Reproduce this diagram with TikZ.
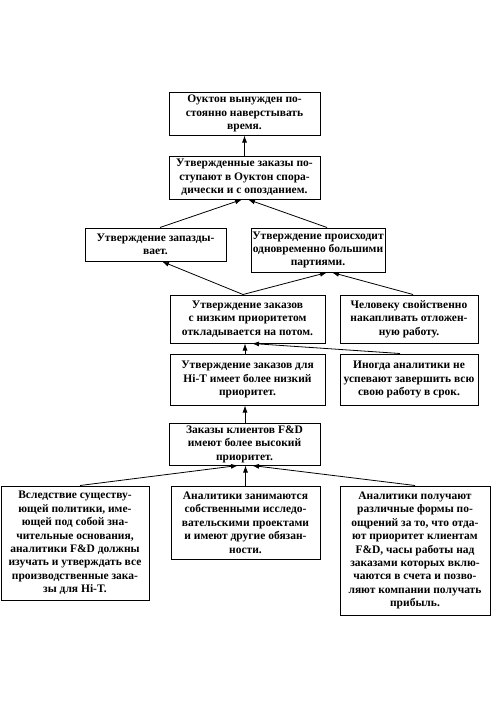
\documentclass[tikz,border=0pt]{standalone}
\usepackage{fontspec}
\setmainfont{Liberation Serif}
\usetikzlibrary{arrows.meta}
\tikzset{
  box/.style={draw, line width=1pt, align=center, inner sep=0pt,
    font=\fontsize{11.5}{13.4}\selectfont\bfseries},
  arr/.style={line width=0.8pt, -{Latex[length=7pt,width=5pt]}}
}
\begin{document}
\begin{tikzpicture}[x=1pt,y=-1pt]
\useasboundingbox (0,0) rectangle (491,709);
\node[box, minimum width=151pt, minimum height=43pt] (b1) at (244.5,113.5)
  {Оуктон вынужден по-\\стоянно наверстывать\\время.};
\node[box, minimum width=151pt, minimum height=43pt] (b2) at (244.5,177.5)
  {Утвержденные заказы по-\\ступают в Оуктон спора-\\дически и с опозданием.};
\node[box, minimum width=141pt, minimum height=33pt] (b3) at (155.5,244.5)
  {Утверждение запазды-\\вает.};
\node[box, minimum width=134pt, minimum height=44pt] (b4) at (318,250)
  {Утверждение происходит\\одновременно большими\\партиями.};
\node[box, minimum width=155pt, minimum height=48pt] (b5) at (247.5,319)
  {Утверждение заказов\\с низким приоритетом\\откладывается на потом.};
\node[box, minimum width=138pt, minimum height=48pt] (b6) at (409,319)
  {Человеку свойственно\\накапливать отложен-\\ную работу.};
\node[box, minimum width=155pt, minimum height=51pt] (b7) at (247.5,379.5)
  {Утверждение заказов для\\Hi-T имеет более низкий\\приоритет.};
\node[box, minimum width=138pt, minimum height=51pt] (b8) at (409,379.5)
  {Иногда аналитики не\\успевают завершить всю\\свою работу в срок.};
\node[box, minimum width=151pt, minimum height=42pt] (b9) at (244.5,444)
  {Заказы клиентов F\&D\\имеют более высокий\\приоритет.};
\node[box, minimum width=148pt, minimum height=114pt] (bl) at (75,543)
  {Вследствие существу-\\ющей политики, име-\\ющей под собой зна-\\чительные основания,\\аналитики F\&D должны\\изучать и утверждать все\\производственные зака-\\зы для Hi-T.};
\node[box, minimum width=149pt, minimum height=73pt] (bm) at (245.5,522.5)
  {Аналитики занимаются\\собственными исследо-\\вательскими проектами\\и имеют другие обязан-\\ности.};
\node[box, minimum width=150pt, minimum height=129pt] (br) at (415,550.5)
  {Аналитики получают\\различные формы по-\\ощрений за то, что отда-\\ют приоритет клиентам\\F\&D, часы работы над\\заказами которых вклю-\\чаются в счета и позво-\\ляют компании получать\\прибыль.};

\draw[arr] (b2.north) -- (b1.south);
\draw[arr] ([xshift=4.5pt]b3.north) -- ([xshift=-2.5pt]b2.south);
\draw[arr] ([xshift=9pt]b4.north) -- ([xshift=3.5pt]b2.south);
\draw[arr] ([xshift=-4.5pt]b5.north) -- ([xshift=6.5pt]b3.south);
\draw[arr] ([xshift=-4.5pt]b5.north) -- ([xshift=9pt]b4.south);
\draw[arr] ([xshift=4pt]b6.north) -- ([xshift=14pt]b4.south);
\draw[arr] ([xshift=-2.5pt]b7.north) -- ([xshift=-2.5pt]b5.south);
\draw[arr] ([xshift=-9pt]b8.north) -- ([xshift=4.5pt]b5.south);
\draw[arr] ([xshift=0.5pt]b9.north) -- ([xshift=-2.5pt]b7.south);
\draw[arr] ([xshift=5pt]bl.north) -- ([xshift=-6.5pt]b9.south);
\draw[arr] (bm.north) -- ([xshift=1pt]b9.south);
\draw[arr] (br.north) -- ([xshift=7.5pt]b9.south);
\end{tikzpicture}
\end{document}
